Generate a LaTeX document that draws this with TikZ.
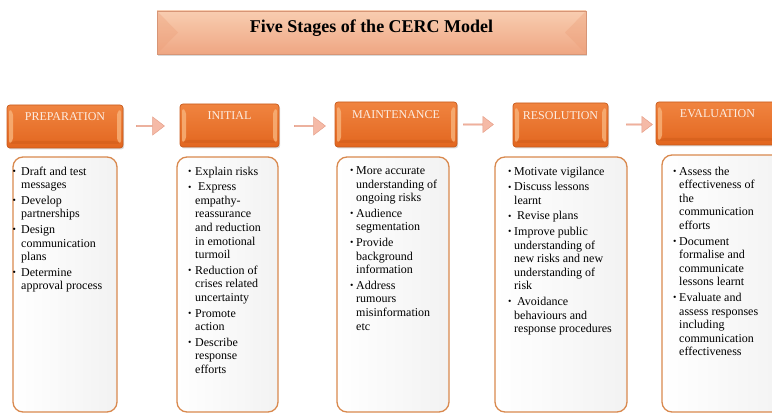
\documentclass[tikz,border=0pt]{standalone}
\usepackage{fontspec}
\setmainfont{Liberation Serif}
\usetikzlibrary{shapes.arrows,shadows}

\definecolor{stagetop}{HTML}{F08440}
\definecolor{stagebot}{HTML}{E2661F}
\definecolor{stageedge}{HTML}{C85A1C}
\definecolor{stagelight}{HTML}{F8B47C}
\definecolor{stagedark}{HTML}{CF5C1A}
\definecolor{stagetext}{HTML}{FCEDE2}
\definecolor{titletop}{HTML}{F8CDB0}
\definecolor{titlebot}{HTML}{EFA683}
\definecolor{titleside}{HTML}{EC9E78}
\definecolor{arrowfill}{HTML}{F5BAA7}
\definecolor{arrowedge}{HTML}{E6A08A}
\definecolor{listedge}{HTML}{D9894E}

% bullet with a hanging indent of \bw
\def\bw{6pt}
\newcommand{\itm}[1]{\makebox[\bw][l]{\raisebox{0.6pt}{\scalebox{0.8}{\textbullet}}}#1}
\newcommand{\cnt}[1]{\hspace*{\bw}#1}

\tikzset{
  stagebox/.style={
    rounded corners=3pt, draw=stageedge, line width=0.7pt,
    top color=stagetop, bottom color=stagebot,
    drop shadow={shadow xshift=1.2pt, shadow yshift=-1.5pt, opacity=0.3},
    minimum height=43, inner sep=0pt,
    font=\fontsize{12}{14}\selectfont, text=stagetext,
    text height=8pt, text depth=19pt,
    path picture={
      \fill[stagelight, opacity=0.8]
        ([shift={(2pt,-4pt)}]path picture bounding box.north west) --
        ([shift={(6pt,-7pt)}]path picture bounding box.north west) --
        ([shift={(6pt,7pt)}]path picture bounding box.south west) --
        ([shift={(2pt,4pt)}]path picture bounding box.south west) -- cycle;
      \fill[stagelight, opacity=0.8]
        ([shift={(-2pt,-4pt)}]path picture bounding box.north east) --
        ([shift={(-6pt,-7pt)}]path picture bounding box.north east) --
        ([shift={(-6pt,7pt)}]path picture bounding box.south east) --
        ([shift={(-2pt,4pt)}]path picture bounding box.south east) -- cycle;
      \fill[stagedark, opacity=0.5]
        ([shift={(2pt,4pt)}]path picture bounding box.south west) --
        ([shift={(6pt,7pt)}]path picture bounding box.south west) --
        ([shift={(-6pt,7pt)}]path picture bounding box.south east) --
        ([shift={(-2pt,4pt)}]path picture bounding box.south east) -- cycle;
    }},
  titlebox/.style={
    top color=titletop, bottom color=titlebot, draw=titlebot!90!black, line width=0.3pt,
    drop shadow={shadow xshift=1pt, shadow yshift=-2.5pt, opacity=0.3},
    minimum width=429, minimum height=43, inner sep=0pt,
    font=\fontsize{18}{20}\bfseries, text height=12pt, text depth=12pt,
    path picture={
      \fill[titleside, opacity=0.35]
        (path picture bounding box.north west) --
        ([shift={(21pt,0pt)}]path picture bounding box.west) --
        (path picture bounding box.south west) -- cycle;
      \fill[titleside, opacity=0.35]
        (path picture bounding box.north east) --
        ([shift={(-21pt,0pt)}]path picture bounding box.east) --
        (path picture bounding box.south east) -- cycle;
    }},
  blockarrow/.style={
    single arrow, fill=arrowfill, draw=arrowedge, line width=0.5pt,
    minimum width=18, single arrow head extend=3pt,
    single arrow tip angle=75, inner sep=0pt},
  listbox/.style={
    draw=listedge, line width=1.3pt, rounded corners=10pt,
    left color=white, middle color=white, right color=black!5,
    inner sep=0pt, minimum height=255},
  listtext/.style={
    anchor=north west, inner sep=0pt, align=left,
    font=\fontsize{12}{13.6}\selectfont}
}

\begin{document}
\begin{tikzpicture}[x=1pt, y=-1pt]
\useasboundingbox (0,0) rectangle (772,414);
\clip (0,0) rectangle (772,414);

% heading
\node[titlebox] (title) at (371.5,32.5) {Five Stages of the CERC Model};

% stage headers
\node[stagebox, minimum width=116] (prep) at (65,126.5) {PREPARATION};
\node[stagebox, minimum width=99] (init) at (229.5,125.5) {INITIAL};
\node[stagebox, minimum width=122, minimum height=45] (main) at (396,124.5) {MAINTENANCE};
\node[stagebox, minimum width=95, minimum height=44] (reso) at (560.5,125) {RESOLUTION};
\node[stagebox, minimum width=123] (eval) at (717.5,123.5) {EVALUATION};

% block arrows between stages
\node[blockarrow, minimum height=28] (a1) at (150,126) {};
\node[blockarrow, minimum height=31] (a2) at (309.5,126) {};
\node[blockarrow, minimum height=30, minimum width=16] (a3) at (478,124.5) {};
\node[blockarrow, minimum height=26, minimum width=16] (a4) at (639,124.5) {};

% panels with the activities of each stage
\node[listbox, minimum width=104] (c1) at (65,284.5) {};
\node[listbox, minimum width=101] (c2) at (227.5,284.5) {};
\node[listbox, minimum width=112] (c3) at (393,284.5) {};
\node[listbox, minimum width=132] (c4) at (561,284.5) {};
\node[listbox, minimum width=128, minimum height=257] (c5) at (726,283.5) {};

\def\bw{8.5pt}
\node[listtext] (t1) at (12.5,166.5) {%
\itm{Draft and test}\\ \cnt{messages}\\[2pt]
\itm{Develop}\\ \cnt{partnerships}\\[2pt]
\itm{Design}\\ \cnt{communication}\\ \cnt{plans}\\[2pt]
\itm{Determine}\\ \cnt{approval process}};

\def\bw{7pt}
\node[listtext] (t2) at (188,166.5) {%
\itm{Explain risks}\\[2pt]
\itm{\hspace{3pt}Express}\\ \cnt{empathy-}\\ \cnt{reassurance}\\ \cnt{and reduction}\\ \cnt{in emotional}\\ \cnt{turmoil}\\[2pt]
\itm{Reduction of}\\ \cnt{crises related}\\ \cnt{uncertainty}\\[2pt]
\itm{Promote}\\ \cnt{action}\\[2pt]
\itm{Describe}\\ \cnt{response}\\ \cnt{efforts}};

\def\bw{6pt}
\node[listtext] (t3) at (350,166.5) {%
\itm{More accurate}\\ \cnt{understanding of}\\ \cnt{ongoing risks}\\[2pt]
\itm{Audience}\\ \cnt{segmentation}\\[2pt]
\itm{Provide}\\ \cnt{background}\\ \cnt{information}\\[2pt]
\itm{Address}\\ \cnt{rumours}\\ \cnt{misinformation}\\ \cnt{etc}};

\node[listtext] (t4) at (508,166.5) {%
\itm{Motivate vigilance}\\[2pt]
\itm{Discuss lessons}\\ \cnt{learnt}\\[2pt]
\itm{\hspace{3pt}Revise plans}\\[2pt]
\itm{Improve public}\\ \cnt{understanding of}\\ \cnt{new risks and new}\\ \cnt{understanding of}\\ \cnt{risk}\\[2pt]
\itm{\hspace{3pt}Avoidance}\\ \cnt{behaviours and}\\ \cnt{response procedures}};

\node[listtext] (t5) at (673,166.5) {%
\itm{Assess the}\\ \cnt{effectiveness of}\\ \cnt{the}\\ \cnt{communication}\\ \cnt{efforts}\\[2pt]
\itm{Document}\\ \cnt{formalise and}\\ \cnt{communicate}\\ \cnt{lessons learnt}\\[2pt]
\itm{Evaluate and}\\ \cnt{assess responses}\\ \cnt{including}\\ \cnt{communication}\\ \cnt{effectiveness}};
\end{tikzpicture}
\end{document}
